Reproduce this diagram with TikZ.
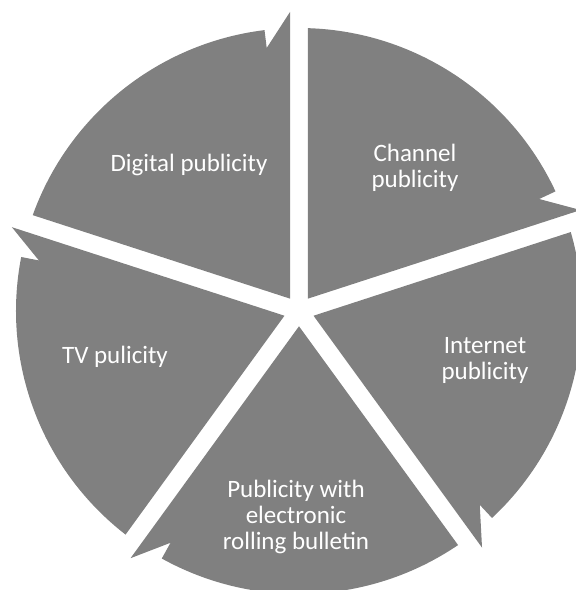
\documentclass[tikz,border=0pt]{standalone}
\usepackage{fontspec}
\setmainfont{Carlito}
\usetikzlibrary{calc}
\definecolor{segdark}{RGB}{128,128,128}
\begin{document}
\begin{tikzpicture}[x=1pt, y=1pt,
    seglabel/.style={text=white, font=\fontsize{25}{26}\selectfont, align=center}]
  \useasboundingbox (0,0) rectangle (576,590);
  \coordinate (C) at (299,279);

  % Segments, each with an arrow tip at its clockwise end
  \foreach \sa in {162, 90, 18, -54, -126}{
    \pgfmathsetmacro{\sb}{\sa-72}
    \fill[segdark] ($(C)+(\sa-36:15.3)$) -- ($(C)+(\sa-1.8:283)$)
      arc[start angle=\sa-1.8, end angle=\sb+7, radius=283]
      -- ($(C)+(\sb+7:265)$) -- ($(C)+(\sb:299)+(\sb+90:9)$) -- cycle;
  }

  % Labels
  \node[seglabel] (digital) at (189,425) {Digital publicity};
  \node[seglabel] (channel) at (415,422) {Channel\\publicity};
  \node[seglabel] (internet) at (485,230) {Internet\\publicity};
  \node[seglabel] (bulletin) at (296,73) {Publicity with\\electronic\\rolling bulletin};
  \node[seglabel] (tv) at (115,233) {TV pulicity};
\end{tikzpicture}
\end{document}
